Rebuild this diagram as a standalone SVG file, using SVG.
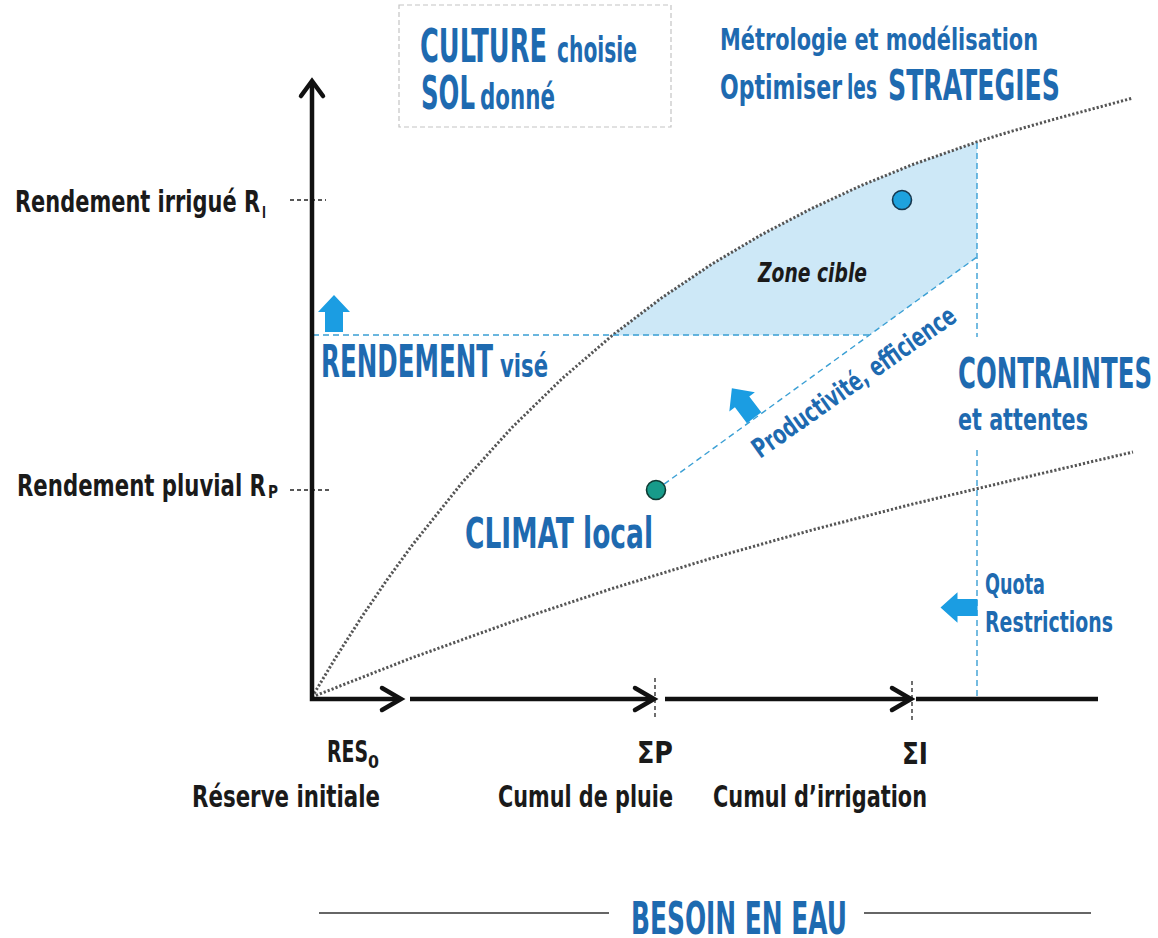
<svg xmlns="http://www.w3.org/2000/svg" width="1158" height="938" viewBox="0 0 1158 938">
<defs>
<style>
text{font-family:'Liberation Sans Narrow','DejaVu Sans Condensed','Liberation Sans',sans-serif;font-stretch:condensed;font-weight:bold}
.k{fill:#1a1a1a}
.b{fill:#1e6ab0}
.ax{fill:none;stroke:#111;stroke-width:4.5;stroke-linejoin:miter}
.chev{fill:none;stroke:#111;stroke-width:4.5;stroke-linecap:round;stroke-linejoin:miter}
.tick{stroke:#222;stroke-width:1.3;stroke-dasharray:4 3}
.dot{fill:none;stroke:#555;stroke-width:3;stroke-dasharray:2.2 2}
.bd{fill:none;stroke:#3a9fd4;stroke-width:1.4;stroke-dasharray:6 4}
.arr{fill:#1b9de2}
</style>
<path id="bigArrow" d="M0,-18.5 L16,-1.5 L9,-1.5 L9,18.5 L-9,18.5 L-9,-1.5 L-16,-1.5 Z"/>
</defs>
<rect width="1158" height="938" fill="#ffffff"/>

<g id="zone">
<polygon points="612,335.6 662,297.6 712,264 762,234.4 812,208.3 862,185.2 912,164.8 977,141.9 977,257 869.5,335" fill="#cde8f7"/>
<text x="758" y="282" font-size="26" font-style="italic" class="k" textLength="109" lengthAdjust="spacingAndGlyphs">Zone cible</text>
</g>

<g id="curves">
<polyline class="dot" points="312,697 337,655.5 362,616.5 387,579.9 412,545.5 462,482.8 512,427.5 562,378.7 612,335.6 662,297.6 712,264 762,234.4 812,208.3 862,185.2 912,164.8 977,141.9 1012,131.1 1062,117.1 1133,98"/>
<polyline class="dot" points="312,697 412,657.8 512,621.8 612,588.6 712,558.1 812,530 912,504.2 1012,480.4 1133,452"/>
</g>

<g id="connectors">
<line class="bd" x1="313" y1="335" x2="870" y2="335"/>
<line class="bd" x1="656" y1="490" x2="977" y2="257"/>
<line class="bd" x1="977" y1="143" x2="977" y2="337"/>
<line class="bd" x1="977" y1="450" x2="977" y2="697"/>
<line class="tick" x1="290" y1="200" x2="326" y2="200"/>
<line class="tick" x1="290" y1="490" x2="330" y2="490"/>
<line class="tick" x1="655" y1="678" x2="655" y2="718"/>
<line class="tick" x1="912" y1="681" x2="912" y2="721"/>
</g>

<g id="axes">
<path class="ax" d="M312,82 L312,699 L400,699"/>
<path class="chev" d="M301,96 L312,81 L323,96"/>
<path class="chev" d="M382,688 L401,699 L382,710"/>
<line class="ax" x1="410" y1="699" x2="652" y2="699"/>
<path class="chev" d="M635,688 L654,699 L635,710"/>
<line class="ax" x1="665" y1="699" x2="909" y2="699"/>
<path class="chev" d="M892,688 L911,699 L892,710"/>
<line class="ax" x1="916" y1="699" x2="1098" y2="699"/>
</g>

<g id="points">
<circle cx="902" cy="200" r="9.5" fill="#1ea2de" stroke="#17384f" stroke-width="1.6"/>
<circle cx="656" cy="490" r="9.5" fill="#179b8a" stroke="#0f3a33" stroke-width="1.6"/>
</g>

<g id="arrows">
<use href="#bigArrow" class="arr" transform="translate(334,313.5)"/>
<use href="#bigArrow" class="arr" transform="translate(743,403) rotate(-37)"/>
<use href="#bigArrow" class="arr" transform="translate(959,607.5) rotate(-90) scale(0.95,1)"/>
</g>

<g id="y-labels">
<text x="15" y="212" font-size="31" class="k" textLength="245" lengthAdjust="spacingAndGlyphs">Rendement irrigué R</text>
<text x="262" y="218" font-size="16" class="k" textLength="4" lengthAdjust="spacingAndGlyphs">I</text>
<text x="17" y="496" font-size="31" class="k" textLength="249" lengthAdjust="spacingAndGlyphs">Rendement pluvial R</text>
<text x="268" y="498" font-size="17" class="k" textLength="10" lengthAdjust="spacingAndGlyphs">P</text>
</g>

<g id="culture-sol">
<rect x="399" y="5" width="272" height="122" fill="none" stroke="#c4c4c4" stroke-width="1.2" stroke-dasharray="5 3"/>
<text x="420" y="62" font-size="46" class="b" textLength="127" lengthAdjust="spacingAndGlyphs">CULTURE</text>
<text x="557" y="62" font-size="36" class="b" textLength="80" lengthAdjust="spacingAndGlyphs">choisie</text>
<text x="421" y="109" font-size="46" class="b" textLength="54" lengthAdjust="spacingAndGlyphs">SOL</text>
<text x="480" y="109" font-size="36" class="b" textLength="75" lengthAdjust="spacingAndGlyphs">donné</text>
</g>

<g id="strategies">
<text x="720" y="50" font-size="30" class="b" textLength="318" lengthAdjust="spacingAndGlyphs">Métrologie et modélisation</text>
<text x="720" y="99" font-size="34" class="b" textLength="122" lengthAdjust="spacingAndGlyphs">Optimiser</text>
<text x="847" y="99" font-size="34" class="b" textLength="30" lengthAdjust="spacingAndGlyphs">les</text>
<text x="888" y="100" font-size="42" class="b" textLength="172" lengthAdjust="spacingAndGlyphs">STRATEGIES</text>
</g>

<g id="rendement-vise">
<text x="321" y="377" font-size="44" class="b" textLength="172" lengthAdjust="spacingAndGlyphs">RENDEMENT</text>
<text x="500" y="377" font-size="32" class="b" textLength="48" lengthAdjust="spacingAndGlyphs">visé</text>
</g>

<g id="climat">
<text x="465" y="548" font-size="43" class="b" textLength="188" lengthAdjust="spacingAndGlyphs">CLIMAT local</text>
</g>

<g id="productivite">
<text x="760" y="459" font-size="27" class="b" textLength="242" lengthAdjust="spacingAndGlyphs" transform="rotate(-35 760 459)">Productivité, efficience</text>
</g>

<g id="contraintes">
<text x="958" y="388" font-size="42" class="b" textLength="194" lengthAdjust="spacingAndGlyphs">CONTRAINTES</text>
<text x="958" y="430" font-size="31" class="b" textLength="130" lengthAdjust="spacingAndGlyphs">et attentes</text>
</g>

<g id="quota">
<text x="985" y="594" font-size="29" class="b" textLength="60" lengthAdjust="spacingAndGlyphs">Quota</text>
<text x="985" y="632" font-size="29" class="b" textLength="128" lengthAdjust="spacingAndGlyphs">Restrictions</text>
</g>

<g id="x-labels">
<text x="327" y="762" font-size="30" class="k" textLength="41" lengthAdjust="spacingAndGlyphs">RES</text>
<text x="368" y="768" font-size="17" class="k" textLength="11" lengthAdjust="spacingAndGlyphs">0</text>
<text x="192" y="807" font-size="30" class="k" textLength="188" lengthAdjust="spacingAndGlyphs">Réserve initiale</text>
<text x="637" y="763" font-size="30" class="k" textLength="36" lengthAdjust="spacingAndGlyphs">ΣP</text>
<text x="498" y="807" font-size="30" class="k" textLength="175" lengthAdjust="spacingAndGlyphs">Cumul de pluie</text>
<text x="902" y="764" font-size="30" class="k" textLength="26" lengthAdjust="spacingAndGlyphs">ΣI</text>
<text x="713" y="807" font-size="30" class="k" textLength="214" lengthAdjust="spacingAndGlyphs">Cumul d’irrigation</text>
</g>

<g id="besoin">
<line x1="319" y1="913" x2="609" y2="913" stroke="#333" stroke-width="1.6"/>
<line x1="864" y1="913" x2="1091" y2="913" stroke="#333" stroke-width="1.6"/>
<text x="631" y="934" font-size="44" class="b" textLength="216" lengthAdjust="spacingAndGlyphs">BESOIN EN EAU</text>
</g>
</svg>
